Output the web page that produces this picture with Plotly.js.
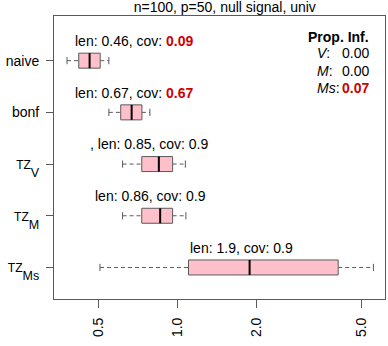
<!DOCTYPE html>
<html>
<head>
<meta charset="utf-8">
<script src="https://cdn.plot.ly/plotly-3.0.1.min.js"></script>
<style>
  html, body { margin: 0; padding: 0; background: #fff; }
  #chart { width: 388px; height: 346px; }
</style>
</head>
<body>
<div id="chart"></div>
<script>
// box stats per method
var categories = ['naive', 'bonf', 'TZ|V', 'TZ|M', 'TZ|Ms'];
var lowerWhisker = [0.379, 0.547, 0.617, 0.617, 0.506];
var q1 = [0.420, 0.607, 0.730, 0.730, 1.10];
var median = [0.462, 0.668, 0.848, 0.858, 1.88];
var q3 = [0.507, 0.731, 0.957, 0.957, 4.09];
var upperWhisker = [0.547, 0.784, 1.07, 1.075, 5.57];
var covLabels = ['0.09', '0.67', '0.9', '0.9', '0.9'];
var covBad = [true, true, false, false, false];
var labelPrefix = ['', '', ', ', '', ''];
var propNames = ['V', 'M', 'Ms'];
var propValues = ['0.00', '0.00', '0.07'];
var propBad = [false, false, true];

var tickVals = [0.5, 1, 2, 5];
var tickText = ['0.5', '1.0', '2.0', '5.0'];

// where the len/cov labels start (x, data units)
var labelX = [0.398, 0.398, 0.454, 0.474, 1.097];

var RED = '#CD0000';
var GREY = '#5a5a5a';
var half = 0.145;   // half box height
var cap = 0.07;     // half staple height

// "TZ|V" -> TZ with a subscript V, like R's plotmath TZ[V]
function catLabel(c) {
  var p = c.split('|');
  if (p.length < 2) return c;
  return '<span style="font-size:12px">' + p[0] + '</span>' +
    '<span style="font-size:12.5px;baseline-shift:-8px">' + p[1] + '</span>';
}

var wx = [], wy = [], cx = [], cy = [], bx = [], by = [], mx = [], my = [];
for (var i = 0; i < categories.length; i++) {
  var y = i + 1;
  wx.push(lowerWhisker[i], q1[i], null, q3[i], upperWhisker[i], null);
  wy.push(y, y, null, y, y, null);
  cx.push(lowerWhisker[i], lowerWhisker[i], null, upperWhisker[i], upperWhisker[i], null);
  cy.push(y - cap, y + cap, null, y - cap, y + cap, null);
  bx.push(q1[i], q3[i], q3[i], q1[i], q1[i], null);
  by.push(y - half, y - half, y + half, y + half, y - half, null);
  mx.push(median[i], median[i], null);
  my.push(y - half, y + half, null);
}

var data = [
  {x: wx, y: wy, mode: 'lines', type: 'scatter',
   line: {color: GREY, width: 1, dash: '4px,3px'}},
  {x: cx, y: cy, mode: 'lines', type: 'scatter',
   line: {color: GREY, width: 1}},
  {x: bx, y: by, mode: 'lines', type: 'scatter', fill: 'toself',
   fillcolor: '#FFC0CB', line: {color: GREY, width: 1}},
  {x: mx, y: my, mode: 'lines', type: 'scatter',
   line: {color: '#000', width: 2}}
];

var annotations = [];
for (var i = 0; i < categories.length; i++) {
  var cov = covBad[i] ? '<b><span style="color:' + RED + '">' + covLabels[i] + '</span></b>' : covLabels[i];
  annotations.push({
    xref: 'x', yref: 'y', x: Math.log10(labelX[i]), y: i + 1 - 0.38,
    xanchor: 'left', yanchor: 'middle', showarrow: false,
    text: labelPrefix[i] + 'len: ' + median[i].toPrecision(2) + ', cov: ' + cov
  });
}
// Prop. Inf. block, top right
annotations.push({xref: 'paper', yref: 'paper', x: 0.957, y: 0.927,
  xanchor: 'right', yanchor: 'middle', showarrow: false, text: '<b>Prop. Inf.</b>'});
var propY = [0.869, 0.807, 0.745];
for (var k = 0; k < propNames.length; k++) {
  annotations.push({xref: 'paper', yref: 'paper', x: 0.79, y: propY[k],
    xanchor: 'left', yanchor: 'middle', showarrow: false, text: '<i>' + propNames[k] + '</i>:'});
  annotations.push({xref: 'paper', yref: 'paper', x: 0.957, y: propY[k],
    xanchor: 'right', yanchor: 'middle', showarrow: false,
    text: propBad[k] ? '<b><span style="color:' + RED + '">' + propValues[k] + '</span></b>' : propValues[k]});
}

var layout = {
  width: 388, height: 346,
  margin: {l: 54, r: 3, t: 16, b: 47},
  paper_bgcolor: '#fff', plot_bgcolor: '#fff',
  font: {family: 'Liberation Sans, Arial, sans-serif', size: 14, color: '#000'},
  title: {text: 'n=100, p=50, null signal, univ', font: {size: 14},
    xref: 'paper', x: 0.516, xanchor: 'center', yref: 'container', y: 0.98, yanchor: 'middle'},
  showlegend: false,
  hovermode: false,
  xaxis: {
    type: 'log', range: [-0.471, 0.790],
    tickvals: tickVals, ticktext: tickText, tickangle: -90,
    ticks: 'outside', ticklen: 8, tickcolor: GREY, ticklabelstandoff: 4,
    showgrid: false, zeroline: false,
    showline: true, linecolor: GREY, linewidth: 1, mirror: true
  },
  yaxis: {
    range: [5.61, 0.136],
    tickvals: [1, 2, 3, 4, 5], ticktext: categories.map(catLabel),
    ticks: 'outside', ticklen: 7, tickcolor: GREY, ticklabelstandoff: 4,
    showgrid: false, zeroline: false,
    showline: true, linecolor: GREY, linewidth: 1, mirror: true
  },
  annotations: annotations
};

Plotly.newPlot('chart', data, layout, {staticPlot: true, displayModeBar: false});
</script>
</body>
</html>
